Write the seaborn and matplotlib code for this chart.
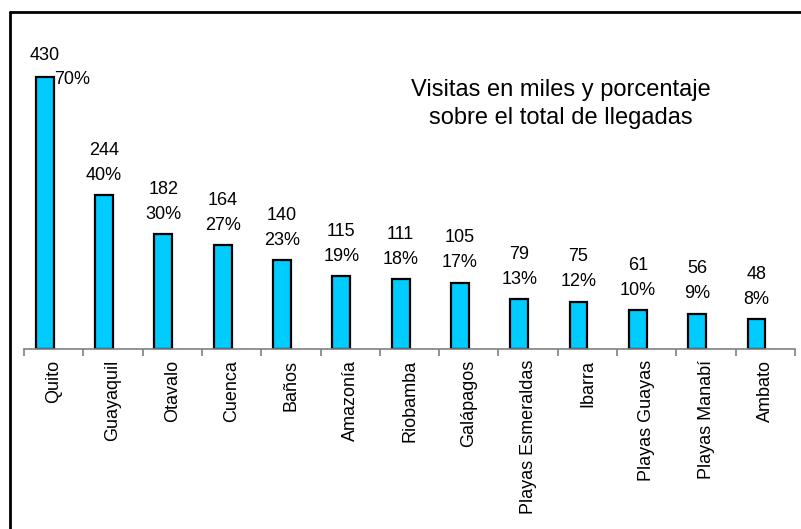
import matplotlib
matplotlib.use("Agg")
import matplotlib.pyplot as plt
import seaborn as sns
import pandas as pd
import numpy as np
from matplotlib.lines import Line2D

# Visitas por destino (miles) y porcentaje sobre el total de llegadas
destinos = ["Quito", "Guayaquil", "Otavalo", "Cuenca", "Baños", "Amazonía",
            "Riobamba", "Galápagos", "Playas Esmeraldas", "Ibarra",
            "Playas Guayas", "Playas Manabí", "Ambato"]
visitas = [430, 244, 182, 164, 140, 115, 111, 105, 79, 75, 61, 56, 48]
porcentajes = ["70%", "40%", "30%", "27%", "23%", "19%", "18%", "17%",
               "13%", "12%", "10%", "9%", "8%"]

sns.set_theme(style="white")
plt.rcParams["font.family"] = ["Liberation Sans", "DejaVu Sans"]
plt.rcParams["text.color"] = "black"
plt.rcParams["xtick.color"] = "black"

df = pd.DataFrame({"destino": destinos, "visitas": visitas, "serie": "visitas"})

fig = plt.figure(figsize=(8.01, 5.29), dpi=100)
W, H = 801, 529
ax = fig.add_axes([24 / W, 180 / H, (795 - 24) / W, (349 - 20) / H])

# Two hue slots (the second one empty) so each bar sits in the left half of its slot
sns.barplot(data=df, x="destino", y="visitas", hue="serie",
            hue_order=["visitas", "vacía"],
            palette={"visitas": "#00CCFF", "vacía": "#00CCFF"},
            dodge=True, width=0.6, ax=ax, saturation=1,
            edgecolor="black", linewidth=1.6, legend=False)

ax.set_xlim(-0.5, len(destinos) - 0.5)
ax.set_ylim(0, 520)
ax.set_xlabel("")
ax.set_ylabel("")
ax.set_yticks([])

for side in ["left", "right", "top"]:
    ax.spines[side].set_visible(False)
ax.spines["bottom"].set_color("#808080")
ax.spines["bottom"].set_linewidth(1.2)

ax.set_xticks(range(len(destinos)))
ax.set_xticklabels(destinos, rotation=90, fontsize=13, va="top", ha="center",
                   color="black")
ax.tick_params(axis="x", which="major", length=0, pad=8)
ax.set_xticks(np.arange(-0.5, len(destinos)), minor=True)
ax.tick_params(axis="x", which="minor", length=5, width=1.2, color="#808080",
               direction="out", bottom=True)

# Etiquetas de valor y porcentaje sobre cada barra
bars = sorted([p for p in ax.patches if p.get_height() > 0], key=lambda p: p.get_x())
for i, (bar, v, p) in enumerate(zip(bars, visitas, porcentajes)):
    xc = bar.get_x() + bar.get_width() / 2
    if i == 0:
        ax.annotate(str(v), (xc, v), xytext=(0, 9), textcoords="offset points",
                    ha="center", va="bottom", fontsize=13, color="black")
        ax.annotate(p, (xc, v), xytext=(7, -2), textcoords="offset points",
                    ha="left", va="center", fontsize=13, color="black")
    else:
        ax.annotate(str(v), (xc, v), xytext=(0, 26), textcoords="offset points",
                    ha="center", va="bottom", fontsize=13, color="black")
        ax.annotate(p, (xc, v), xytext=(0, 8), textcoords="offset points",
                    ha="center", va="bottom", fontsize=13, color="black")

fig.text(561 / W, 1 - 104 / H, "Visitas en miles y porcentaje\nsobre el total de llegadas",
         ha="center", va="center", fontsize=17, linespacing=1.3, color="black")

# Marco exterior
fig.add_artist(Line2D([10 / W, 10 / W], [0, 1 - 12 / H], transform=fig.transFigure,
                      color="black", linewidth=2))
fig.add_artist(Line2D([10 / W, 1], [1 - 12 / H, 1 - 12 / H], transform=fig.transFigure,
                      color="black", linewidth=2))

fig.savefig("out.png", dpi=100, facecolor="white")
